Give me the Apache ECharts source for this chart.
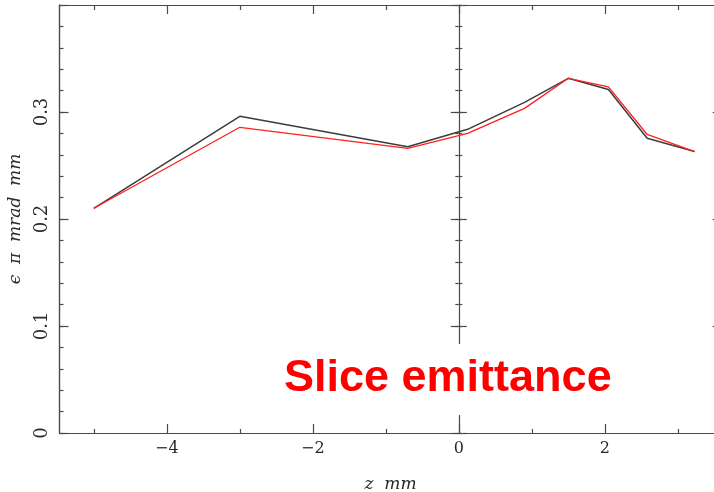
<!DOCTYPE html>
<html>
<head>
<meta charset="utf-8">
<style>html,body{margin:0;padding:0;background:#fff;}#c{width:714px;height:492px;}</style>
<script src="https://cdn.jsdelivr.net/npm/echarts@6/dist/echarts.min.js"></script>
</head>
<body>
<div id="c"></div>
<script>
// Data
const zValues = [-5, -3, -0.7, 0.12, 0.9, 1.5, 2.05, 2.58, 3.23];
const emitBlack = [0.210, 0.296, 0.2676, 0.2838, 0.309, 0.3315, 0.321, 0.2754, 0.263];
const emitRed = [0.210, 0.2857, 0.266, 0.280, 0.3034, 0.3315, 0.3235, 0.279, 0.263];
const xMajorTicks = [-4, -2, 0, 2];
const xMinorTicks = [-5, -3, -1, 1, 3];
const xTickLabels = ['\u22124', '\u22122', '0', '2'];
const yTickLabels = ['0', '0.1', '0.2', '0.3'];
const titleText = 'Slice emittance';

const X_MIN = -5.47, X_MAX = 3.6;
const GRID_LEFT = 59.5, GRID_TOP = 5, GRID_BOTTOM = 59;
const PX_PER_X = 73;
const gridWidth = PX_PER_X * (X_MAX - X_MIN);
const gridRight = 714 - (GRID_LEFT + gridWidth);
const zeroOffset = -(PX_PER_X * (0 - X_MIN));

const frameColor = '#4a4a4a';
const serif = 'DejaVu Serif';

function pairs(xs, ys) { return xs.map((x, i) => [x, ys[i]]); }

function xAx(pos, ticks, len, labels) {
  return {
    type: 'value', position: pos, min: X_MIN, max: X_MAX,
    axisLine: { show: true, onZero: false, lineStyle: { color: frameColor, width: 1.2 } },
    axisTick: { show: true, inside: true, length: len, customValues: ticks, lineStyle: { color: frameColor, width: 1.2 } },
    axisLabel: labels ? {
      show: true, customValues: xMajorTicks, margin: 8,
      formatter: v => xTickLabels[xMajorTicks.indexOf(v)] || '',
      fontFamily: serif, fontSize: 16, color: '#2a2a2a'
    } : { show: false },
    splitLine: { show: false }
  };
}
function yAx(pos, interval, len, labels, inside, offset, showLine) {
  return {
    type: 'value', position: pos, min: 0, max: 0.4, interval: interval, offset: offset || 0,
    axisLine: { show: showLine !== false, onZero: false, lineStyle: { color: frameColor, width: 1.2 } },
    axisTick: { show: true, inside: inside, length: len, lineStyle: { color: frameColor, width: 1.2 } },
    axisLabel: labels ? {
      show: true, rotate: 90, margin: 8,
      formatter: v => yTickLabels[Math.round(v * 10)] || '',
      fontFamily: serif, fontSize: 18, color: '#2a2a2a'
    } : { show: false },
    splitLine: { show: false }
  };
}

const xAxes = [
  Object.assign(xAx('bottom', xMajorTicks, 9, true), {
    name: 'z  mm', nameLocation: 'middle', nameGap: 43,
    nameTextStyle: { fontFamily: serif, fontStyle: 'italic', fontSize: 17, color: '#2a2a2a' }
  }),
  xAx('bottom', xMinorTicks, 4, false),
  xAx('top', xMajorTicks, 9, false),
  xAx('top', xMinorTicks, 5, false)
];
const yAxes = [
  Object.assign(yAx('left', 0.1, 9, true, true), {
    name: '\u03f5  \u03c0  mrad  mm', nameLocation: 'middle', nameGap: 35, nameRotate: 90,
    nameTextStyle: { fontFamily: serif, fontStyle: 'italic', fontSize: 17, color: '#2a2a2a' }
  }),
  yAx('left', 0.02, 4, false, true),
  yAx('right', 0.1, 9, false, true),
  yAx('right', 0.02, 4, false, true),
  yAx('left', 0.1, 8, false, true, zeroOffset),
  yAx('left', 0.1, 8, false, false, zeroOffset, false),
  yAx('left', 0.02, 3.5, false, true, zeroOffset, false),
  yAx('left', 0.02, 3.5, false, false, zeroOffset, false)
];

const chart = echarts.init(document.getElementById('c'), null, { renderer: 'canvas' });
chart.setOption({
  animation: false,
  backgroundColor: '#fff',
  grid: { left: GRID_LEFT, top: GRID_TOP, bottom: GRID_BOTTOM, right: gridRight, containLabel: false, outerBoundsMode: 'none' },
  xAxis: xAxes,
  yAxis: yAxes,
  series: [
    { type: 'line', data: pairs(zValues, emitBlack), showSymbol: false, lineStyle: { color: '#3c3c3c', width: 1.5 }, z: 3 },
    { type: 'line', data: pairs(zValues, emitRed), showSymbol: false, lineStyle: { color: '#ff1f1f', width: 1.3 }, z: 4 }
  ],
  graphic: [
    { type: 'rect', z: 100, shape: { x: 280, y: 344, width: 340, height: 71 }, style: { fill: '#fff' } },
    { type: 'text', z: 101, style: { text: titleText, x: 284, y: 379, verticalAlign: 'middle', align: 'left',
      font: 'bold 45px "Liberation Sans", Arial, sans-serif', fill: '#ff0000' } }
  ]
});
</script>
</body>
</html>
